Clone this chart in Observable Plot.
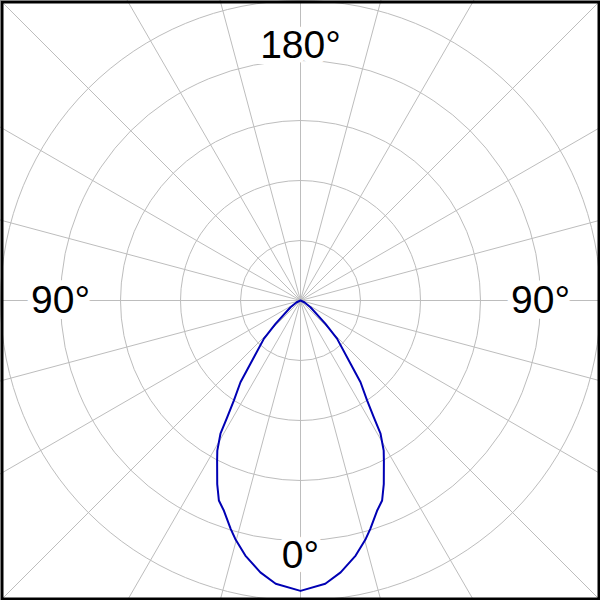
<!DOCTYPE html>
<html>
<head>
<meta charset="utf-8">
<script src="https://cdn.jsdelivr.net/npm/d3@7"></script>
<script src="https://cdn.jsdelivr.net/npm/@observablehq/plot@0.6"></script>
<style>
  html, body { margin: 0; padding: 0; background: #fff; }
  #chart svg { display: block; }
</style>
</head>
<body>
<div id="chart"></div>
<script>
// Measured intensity curve (half; symmetric), angle in degrees from nadir (0° = down)
const curveAngles = [0, 5, 8.4, 12.2, 15.3, 17, 20, 22.2, 24.4, 27.5, 29, 31, 32.1, 33.7, 36.3, 38.3, 43.8, 47, 56, 65, 90];
const curveValues = [484, 474, 458, 435, 412, 398, 373, 360, 336, 301, 286, 259, 230, 200, 169, 135, 88, 57, 20, 7, 0];

// Grid
const gridRadii = [100, 200, 300, 400, 500];
const gridAngles = d3.range(0, 360, 15);

// Angle labels
const labelTexts = ["0°", "90°", "180°", "90°"];
const labelAngles = [0, 90, 180, -90];

const rad = a => a * Math.PI / 180;

// full curve from -90 to 90 by mirroring
const half = curveAngles.map((a, i) => ({a, v: curveValues[i]}));
const curve = [...half.slice(1).reverse().map(d => ({a: -d.a, v: d.v})), ...half];

const labels = labelTexts.map((t, i) => ({t, a: labelAngles[i]}));
const labelDist = a => (Math.abs(a) % 180 === 0 ? 425 : 400);

const plot = Plot.plot({
  width: 600,
  height: 600,
  margin: 0,
  x: {domain: [-500, 500], axis: null},
  y: {domain: [-500, 500], axis: null},
  r: {type: "linear", domain: [0, 500], range: [0, 300]},
  style: {background: "#fff"},
  marks: [
    Plot.link(gridAngles, {
      x1: () => 0, y1: () => 0,
      x2: a => 1000 * Math.sin(rad(a)),
      y2: a => -1000 * Math.cos(rad(a)),
      stroke: "#bdbdbd", strokeWidth: 1, clip: true
    }),
    Plot.dot(gridRadii, {
      x: () => 0, y: () => 0, r: d => d,
      stroke: "#bdbdbd", strokeWidth: 1, fill: "none", clip: true
    }),
    Plot.line(curve, {
      x: d => d.v * Math.sin(rad(d.a)),
      y: d => -d.v * Math.cos(rad(d.a)),
      stroke: "#0000b4", strokeWidth: 2, curve: "linear"
    }),
    Plot.text(labels, {
      x: d => labelDist(d.a) * Math.sin(rad(d.a)),
      y: d => -labelDist(d.a) * Math.cos(rad(d.a)),
      text: "t",
      fontSize: 39,
      fontFamily: "Liberation Sans, Arial, sans-serif",
      fill: "black",
      stroke: "white",
      strokeWidth: 12,
      strokeLinejoin: "miter"
    }),
    Plot.frame({stroke: "black", strokeWidth: 3, inset: 1.5})
  ]
});
document.getElementById("chart").appendChild(plot);
</script>
</body>
</html>
